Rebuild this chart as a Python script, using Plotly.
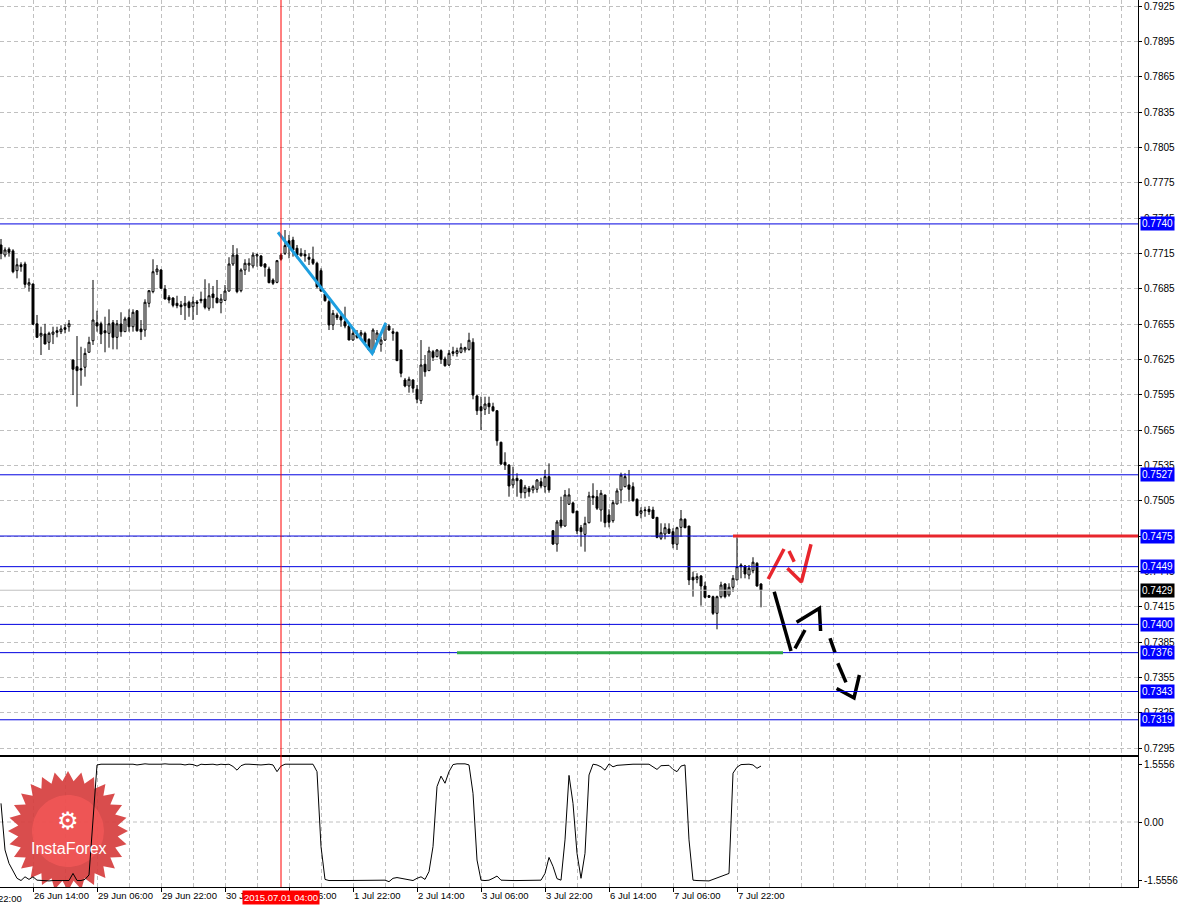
import numpy as np
import plotly.graph_objects as go

# ---------------- DATA ----------------
bars = list(range(191))  # H1 bars, 26 Jun 06:00 ... 8 Jul 04:00

opens = [0.77221,0.77136,0.77185,0.77171,0.77003,0.77053,0.77060,0.76881,0.76890,0.76552,
0.76448,0.76465,0.76395,0.76463,0.76493,0.76485,0.76519,0.76527,0.76245,0.76188,
0.76171,0.76183,0.76310,0.76408,0.76561,0.76552,0.76493,0.76471,0.76561,0.76437,
0.76550,0.76485,0.76604,0.76527,0.76663,0.76508,0.76499,0.76726,0.76825,0.76994,
0.77009,0.76847,0.76777,0.76771,0.76726,0.76712,0.76706,0.76735,0.76697,0.76737,
0.76760,0.76762,0.76684,0.76805,0.76771,0.76731,0.76751,0.76830,0.77060,0.77136,
0.76833,0.77009,0.77051,0.77043,0.77128,0.77128,0.77060,0.77017,0.76924,0.76904,
0.77136,0.77150,0.77257,0.77263,0.77193,0.77130,0.77142,0.77117,0.77100,0.77066,
0.77003,0.76805,0.76740,0.76542,0.76627,0.76612,0.76570,0.76533,0.76414,0.76457,
0.76457,0.76471,0.76420,0.76307,0.76414,0.76378,0.76414,0.76533,0.76485,0.76480,
0.76330,0.76075,0.76024,0.76075,0.75996,0.75899,0.76208,0.76154,0.76315,0.76273,
0.76324,0.76253,0.76202,0.76315,0.76301,0.76310,0.76330,0.76335,0.76395,0.75939,
0.75848,0.75826,0.75877,0.75848,0.75814,0.75546,0.75376,0.75353,0.75184,0.75240,
0.75226,0.75118,0.75155,0.75141,0.75147,0.75211,0.75169,0.75254,0.74795,0.74682,
0.74886,0.74835,0.75020,0.75031,0.74962,0.74821,0.74764,0.74863,0.75090,0.75084,
0.74971,0.75099,0.74929,0.74880,0.75022,0.75141,0.75169,0.75184,0.75169,0.75062,
0.74943,0.74965,0.74977,0.74971,0.74909,0.74731,0.74767,0.74810,0.74787,0.74680,
0.74824,0.74892,0.74835,0.74400,0.74383,0.74411,0.74326,0.74244,0.74235,0.74094,
0.74235,0.74343,0.74250,0.74315,0.74377,0.74490,0.74496,0.74419,0.74456,0.74519,
0.74343]

highs = [0.77272,0.77201,0.77201,0.77185,0.77108,0.77074,0.77079,0.76938,0.76892,0.76627,
0.76527,0.76552,0.76485,0.76527,0.76527,0.76539,0.76548,0.76584,0.76245,0.76448,
0.76357,0.76344,0.76442,0.76924,0.76663,0.76570,0.76612,0.76675,0.76584,0.76584,
0.76650,0.76612,0.76675,0.76675,0.76669,0.76584,0.76760,0.76839,0.77100,0.77051,
0.77015,0.76881,0.76796,0.76777,0.76790,0.76746,0.76788,0.76748,0.76782,0.76754,
0.76825,0.76930,0.76896,0.76873,0.76924,0.76805,0.76881,0.77117,0.77221,0.77193,
0.77023,0.77100,0.77108,0.77159,0.77150,0.77136,0.77066,0.77037,0.76938,0.77094,
0.77150,0.77348,0.77306,0.77291,0.77221,0.77193,0.77179,0.77150,0.77207,0.77079,
0.77023,0.76825,0.76754,0.76669,0.76646,0.76655,0.76697,0.76552,0.76499,0.76499,
0.76499,0.76485,0.76429,0.76514,0.76499,0.76442,0.76559,0.76548,0.76514,0.76485,
0.76330,0.76092,0.76103,0.76081,0.76032,0.76414,0.76287,0.76357,0.76330,0.76335,
0.76335,0.76273,0.76330,0.76357,0.76349,0.76386,0.76357,0.76476,0.76429,0.75947,
0.75933,0.75933,0.75933,0.75882,0.75820,0.75551,0.75461,0.75359,0.75339,0.75283,
0.75232,0.75184,0.75175,0.75184,0.75234,0.75245,0.75311,0.75367,0.74801,0.74886,
0.75084,0.75141,0.75155,0.75042,0.74962,0.74844,0.74914,0.75126,0.75198,0.75141,
0.75141,0.75099,0.74977,0.75056,0.75155,0.75288,0.75283,0.75311,0.75206,0.75070,
0.74994,0.74999,0.75005,0.74999,0.74909,0.74858,0.74858,0.74858,0.74816,0.74829,
0.74971,0.74901,0.74835,0.74447,0.74434,0.74419,0.74362,0.74250,0.74244,0.74244,
0.74362,0.74349,0.74349,0.74419,0.74739,0.74519,0.74504,0.74504,0.74570,0.74528,
0.74349]

lows = [0.77100,0.77117,0.77122,0.76981,0.76938,0.76994,0.76858,0.76825,0.76542,0.76434,
0.76287,0.76380,0.76330,0.76380,0.76437,0.76465,0.76471,0.76485,0.75947,0.75848,
0.76026,0.76103,0.76310,0.76372,0.76485,0.76380,0.76310,0.76349,0.76335,0.76335,
0.76442,0.76485,0.76485,0.76485,0.76485,0.76414,0.76442,0.76692,0.76811,0.76966,
0.76853,0.76762,0.76726,0.76692,0.76684,0.76627,0.76584,0.76612,0.76584,0.76627,
0.76726,0.76675,0.76663,0.76684,0.76726,0.76641,0.76748,0.76825,0.77043,0.76811,
0.76819,0.76966,0.76994,0.77023,0.77037,0.77037,0.76952,0.76896,0.76881,0.76896,
0.77088,0.77136,0.77108,0.77122,0.77108,0.77122,0.77079,0.77051,0.77051,0.76853,
0.76825,0.76740,0.76499,0.76499,0.76584,0.76527,0.76514,0.76414,0.76408,0.76425,
0.76437,0.76380,0.76324,0.76301,0.76397,0.76315,0.76406,0.76493,0.76408,0.76239,
0.76098,0.76013,0.75967,0.75967,0.75877,0.75871,0.76103,0.76151,0.76236,0.76267,
0.76211,0.76188,0.76194,0.76277,0.76273,0.76301,0.76307,0.76324,0.75911,0.75778,
0.75650,0.75778,0.75786,0.75806,0.75517,0.75353,0.75311,0.75084,0.75155,0.75084,
0.75070,0.75070,0.75084,0.75113,0.75118,0.75155,0.75118,0.75118,0.74674,0.74617,
0.74816,0.74829,0.75014,0.74943,0.74767,0.74660,0.74617,0.74858,0.75014,0.74971,
0.74872,0.74824,0.74824,0.74863,0.75020,0.75028,0.75164,0.75042,0.75042,0.74920,
0.74901,0.74914,0.74929,0.74895,0.74731,0.74716,0.74722,0.74767,0.74646,0.74632,
0.74744,0.74816,0.74334,0.74235,0.74349,0.74159,0.74221,0.74224,0.74080,0.73958,
0.74221,0.74221,0.74235,0.74277,0.74377,0.74391,0.74391,0.74383,0.74434,0.74320,
0.74145]

closes = [0.77150,0.77179,0.77159,0.76994,0.77053,0.77037,0.76887,0.76901,0.76548,0.76437,
0.76471,0.76380,0.76471,0.76482,0.76480,0.76508,0.76505,0.76552,0.76166,0.76154,
0.76160,0.76301,0.76395,0.76584,0.76533,0.76465,0.76476,0.76552,0.76437,0.76552,
0.76485,0.76593,0.76527,0.76650,0.76493,0.76485,0.76735,0.76833,0.76994,0.77017,
0.76853,0.76762,0.76754,0.76709,0.76706,0.76697,0.76726,0.76689,0.76737,0.76726,
0.76748,0.76692,0.76790,0.76774,0.76731,0.76762,0.76830,0.77060,0.77136,0.76825,
0.77009,0.77066,0.77066,0.77136,0.77139,0.77043,0.77032,0.76901,0.76896,0.77088,
0.77100,0.77216,0.77207,0.77179,0.77136,0.77150,0.77128,0.77100,0.77066,0.76867,
0.76830,0.76748,0.76542,0.76641,0.76604,0.76584,0.76533,0.76414,0.76471,0.76437,
0.76476,0.76392,0.76330,0.76499,0.76474,0.76414,0.76542,0.76499,0.76471,0.76239,
0.76132,0.76024,0.76081,0.76005,0.75911,0.76202,0.76145,0.76321,0.76267,0.76330,
0.76251,0.76196,0.76301,0.76301,0.76324,0.76349,0.76349,0.76412,0.75947,0.75814,
0.75814,0.75871,0.75848,0.75814,0.75559,0.75362,0.75353,0.75175,0.75234,0.75220,
0.75118,0.75164,0.75126,0.75169,0.75226,0.75175,0.75254,0.75141,0.74682,0.74869,
0.74835,0.75099,0.75099,0.74948,0.74793,0.74787,0.74858,0.75090,0.75075,0.74986,
0.75113,0.74863,0.74867,0.75033,0.75133,0.75268,0.75254,0.75147,0.75050,0.74923,
0.74965,0.74971,0.74957,0.74901,0.74739,0.74778,0.74821,0.74773,0.74682,0.74821,
0.74895,0.74821,0.74377,0.74377,0.74405,0.74326,0.74230,0.74230,0.74094,0.74235,
0.74334,0.74235,0.74315,0.74391,0.74490,0.74504,0.74428,0.74476,0.74528,0.74326,
0.74292]

indicator = [0.50,-0.75,-1.11,-1.33,-1.51,-1.57,-1.47,-1.54,-1.47,-1.56,
-1.57,-1.57,-1.58,-1.57,-1.57,-1.57,-1.57,-1.57,-1.38,-1.57,
-1.57,-1.54,-1.42,0.10,1.53,1.55,1.55,1.54,1.55,1.55,
1.56,1.55,1.54,1.55,1.53,1.55,1.56,1.55,1.54,1.55,
1.55,1.56,1.55,1.54,1.55,1.55,1.53,1.55,1.54,1.50,
1.55,1.54,1.55,1.55,1.53,1.55,1.54,1.55,1.49,1.39,
1.51,1.55,1.55,1.54,1.55,1.53,1.54,1.55,1.53,1.35,
1.50,1.55,1.55,1.55,1.54,1.55,1.55,1.55,1.55,1.35,
-0.66,-1.54,-1.57,-1.57,-1.58,-1.57,-1.57,-1.57,-1.58,-1.57,
-1.57,-1.57,-1.57,-1.58,-1.57,-1.56,-1.56,-1.60,-1.51,-1.49,
-1.51,-1.55,-1.57,-1.57,-1.51,-1.47,-1.54,-1.33,-0.66,0.95,
1.23,1.04,1.35,1.54,1.56,1.56,1.56,1.53,0.77,-1.02,
-1.56,-1.57,-1.56,-1.51,-1.45,-1.56,-1.57,-1.57,-1.57,-1.57,
-1.57,-1.57,-1.57,-1.57,-1.57,-1.56,-1.38,-0.95,-1.19,-1.52,
-1.56,-0.48,1.25,0.50,-0.84,-1.51,-0.84,1.26,1.55,1.53,
1.48,1.39,1.56,1.48,1.52,1.53,1.54,1.55,1.55,1.55,
1.55,1.55,1.55,1.48,1.41,1.51,1.52,1.52,1.41,1.35,
1.50,1.53,-0.48,-1.56,-1.57,-1.57,-1.57,-1.58,-1.54,-1.50,
-1.47,-1.42,-1.38,1.31,1.47,1.54,1.55,1.55,1.53,1.44,
1.50]

tick_bars = [8, 24, 40, 56, 72, 88, 104, 120, 136, 152, 168, 184]
tick_labels = ["26 Jun 14:00", "29 Jun 06:00", "29 Jun 22:00", "30 Jun 14:00",
               "1 Jul 06:00", "1 Jul 22:00", "2 Jul 14:00", "3 Jul 06:00",
               "3 Jul 22:00", "6 Jul 14:00", "7 Jul 06:00", "7 Jul 22:00"]
cursor_bar = 70
cursor_label = "2015.07.01 04:00"

blue_levels = [0.7740, 0.7527, 0.7475, 0.7449, 0.7400, 0.7376, 0.7343, 0.7319]
bid_price = 0.7429
red_level = 0.7475
red_level_start = 183
green_level = 0.7376
green_start, green_end = 114, 195.5

cyan_x = [69.25, 92.8, 96.2]
cyan_y = [0.77329, 0.76301, 0.76559]
red_x = [[191.8, 195.75], [197.0, 198.3], [196.6, 200.1, 202.5]]
red_y = [[0.74385, 0.74640], [0.74623, 0.74532], [0.74476, 0.74360, 0.74680]]
black_x = [[193.3, 197.5], [198.5, 201.0], [198.9, 204.6, 204.9],
           [207.25, 208.5], [209.2, 211.25], [208.9, 213.25, 214.6]]
black_y = [[0.74277, 0.73774], [0.73797, 0.73952], [0.74018, 0.74137, 0.73944],
           [0.73882, 0.73760], [0.73670, 0.73508], [0.73455, 0.73376, 0.73570]]

ind_ticks = [-1.5556, 0.0, 1.5556]
ind_tick_text = ["-1.5556", "0.00", "1.5556"]

# ---------------- LAYOUT CONSTANTS ----------------
W, H = 1180, 906
ML, MR, MT, MB = 0, 42, 0, 19
PW, PH = W - ML - MR, H - MT - MB
X_RANGE = [-0.25, 284.25]
Y_RANGE = [0.72891, 0.79301]
Y2_RANGE = [-1.7433, 1.7433]
MAIN_DOM = [132 / PH, 1.0]
IND_DOM = [0.0, 130 / PH]
FONT = "Liberation Sans, Arial, sans-serif"
GRID = "#c0c0c0"
GDASH = "4px,3px"
BLUE = "#0000e0"


def joined(xs, ys):
    ox, oy = [], []
    for a, b in zip(xs, ys):
        ox += list(a) + [None]
        oy += list(b) + [None]
    return ox, oy


fig = go.Figure()

# watermark (decoration) in the indicator pane, built from the pane's pixel geometry
x_per_px = (X_RANGE[1] - X_RANGE[0]) / PW
ind_px_h = IND_DOM[1] * PH
y2_per_px = (Y2_RANGE[1] - Y2_RANGE[0]) / ind_px_h
ind_top_px = PH - ind_px_h
n_sp = 28
ang = np.linspace(0, 2 * np.pi, 2 * n_sp + 1)
rad = np.where(np.arange(2 * n_sp + 1) % 2 == 0, 60.0, 50.0)
cx, cy = 68.0, 831.0
sx = X_RANGE[0] + (cx + rad * np.cos(ang)) * x_per_px
sy = Y2_RANGE[1] - (cy + rad * np.sin(ang) - ind_top_px) * y2_per_px
fig.add_trace(go.Scatter(x=sx, y=sy, fill="toself", mode="lines", line=dict(width=0),
                         fillcolor="rgba(214,62,62,0.92)", xaxis="x2", yaxis="y2",
                         hoverinfo="skip", showlegend=False))
ang2 = np.linspace(0, 2 * np.pi, 60)
ix = X_RANGE[0] + (cx + 36 * np.cos(ang2)) * x_per_px
iy = Y2_RANGE[1] - (cy + 36 * np.sin(ang2) - ind_top_px) * y2_per_px
fig.add_trace(go.Scatter(x=ix, y=iy, fill="toself", mode="lines", line=dict(width=0),
                         fillcolor="rgba(255,92,92,0.55)", xaxis="x2", yaxis="y2",
                         hoverinfo="skip", showlegend=False))

# candles
fig.add_trace(go.Candlestick(
    x=bars, open=opens, high=highs, low=lows, close=closes,
    increasing=dict(line=dict(color="black", width=1), fillcolor="white"),
    decreasing=dict(line=dict(color="black", width=1), fillcolor="black"),
    whiskerwidth=0, xaxis="x", yaxis="y", hoverinfo="skip", showlegend=False))

# drawn lines
fig.add_trace(go.Scatter(x=cyan_x, y=cyan_y, mode="lines",
                         line=dict(color="#1e9fe0", width=3), xaxis="x", yaxis="y",
                         hoverinfo="skip", showlegend=False))
rx, ry = joined(red_x, red_y)
fig.add_trace(go.Scatter(x=rx, y=ry, mode="lines", line=dict(color="#e8262d", width=3.5),
                         xaxis="x", yaxis="y", hoverinfo="skip", showlegend=False))
bx, by = joined(black_x, black_y)
fig.add_trace(go.Scatter(x=bx, y=by, mode="lines", line=dict(color="black", width=3.5),
                         xaxis="x", yaxis="y", hoverinfo="skip", showlegend=False))

# indicator
fig.add_trace(go.Scatter(x=bars, y=indicator, mode="lines", line=dict(color="black", width=1),
                         xaxis="x2", yaxis="y2", hoverinfo="skip", showlegend=False))

shapes = []
for lv in blue_levels:
    shapes.append(dict(type="line", xref="paper", x0=0, x1=1, yref="y", y0=lv, y1=lv,
                       line=dict(color=BLUE, width=1), layer="above"))
shapes.append(dict(type="line", xref="paper", x0=0, x1=1, yref="y", y0=bid_price, y1=bid_price,
                   line=dict(color="#c0c0c0", width=1), layer="above"))
shapes.append(dict(type="line", xref="x", x0=red_level_start, x1=X_RANGE[1], yref="y",
                   y0=red_level, y1=red_level, line=dict(color="#e8262d", width=3), layer="above"))
shapes.append(dict(type="line", xref="x", x0=green_start, x1=green_end, yref="y",
                   y0=green_level, y1=green_level, line=dict(color="#30a848", width=3), layer="above"))
shapes.append(dict(type="line", xref="paper", x0=0, x1=1, yref="y2", y0=0, y1=0,
                   line=dict(color=GRID, width=1, dash=GDASH), layer="below"))
shapes.append(dict(type="line", xref="x", x0=cursor_bar, x1=cursor_bar, yref="paper", y0=0, y1=1,
                   line=dict(color="#ff0000", width=1), layer="above"))

ann = []
for lv in blue_levels:
    ann.append(dict(x=1, xref="paper", y=lv, yref="y", text=f"{lv:.4f}", showarrow=False,
                    xanchor="left", yanchor="middle", xshift=2, bgcolor="#0000ff",
                    font=dict(color="white", size=10, family=FONT), borderpad=1))
ann.append(dict(x=1, xref="paper", y=bid_price, yref="y", text=f"{bid_price:.4f}", showarrow=False,
                xanchor="left", yanchor="middle", xshift=2, bgcolor="black",
                font=dict(color="white", size=10, family=FONT), borderpad=1))
ann.append(dict(x=cursor_bar, xref="x", y=0, yref="paper", text=cursor_label, showarrow=False,
                xanchor="center", yanchor="top", yshift=-3, bgcolor="#ff0000",
                font=dict(color="white", size=9.5, family=FONT), borderpad=1))
ann.append(dict(x=0, xref="paper", y=0, yref="paper", text="22:00", showarrow=False,
                xanchor="left", yanchor="top", xshift=-4, yshift=-4,
                font=dict(color="black", size=9.5, family=FONT)))
ann.append(dict(x=(cx) / PW, xref="paper", y=(PH - 821) / PH, yref="paper", text="\u2699",
                showarrow=False, xanchor="center", yanchor="middle",
                font=dict(color="white", size=24, family="DejaVu Sans")))
ann.append(dict(x=(cx + 1) / PW, xref="paper", y=(PH - 848) / PH, yref="paper", text="InstaForex",
                showarrow=False, xanchor="center", yanchor="middle",
                font=dict(color="white", size=16, family=FONT)))

tickfont = dict(family=FONT, size=10, color="black")
xtickfont = dict(family=FONT, size=9.5, color="black")
xgrid = dict(showgrid=True, gridcolor=GRID, griddash=GDASH, gridwidth=1)
xminor = dict(tickmode="linear", tick0=0, dtick=8, showgrid=True, gridcolor=GRID,
              griddash=GDASH, gridwidth=1, ticks="")

fig.update_layout(
    width=W, height=H, margin=dict(l=ML, r=MR, t=MT, b=MB, pad=0, autoexpand=False),
    paper_bgcolor="white", plot_bgcolor="white", showlegend=False, hovermode=False,
    shapes=shapes, annotations=ann,
    xaxis=dict(domain=[0, 1], range=X_RANGE, anchor="y", rangeslider=dict(visible=False),
               tickmode="array", tickvals=tick_bars, showticklabels=False, ticks="",
               minor=xminor, showline=True, linecolor="black", linewidth=1,
               zeroline=False, fixedrange=True, automargin=False, **xgrid),
    yaxis=dict(domain=MAIN_DOM, range=Y_RANGE, anchor="x", side="right",
               tickmode="linear", tick0=0.7295, dtick=0.003, tickformat=".4f",
               ticks="outside", ticklen=3, tickcolor="black", tickfont=tickfont,
               showgrid=True, gridcolor=GRID, griddash=GDASH, gridwidth=1, automargin=False,
               showline=True, linecolor="black", linewidth=1, zeroline=False, fixedrange=True),
    xaxis2=dict(domain=[0, 1], range=X_RANGE, anchor="y2", tickmode="array",
                tickvals=tick_bars, ticktext=tick_labels, ticks="outside", ticklen=4,
                tickcolor="black", ticklabelposition="outside right", tickfont=xtickfont,
                tickangle=0, automargin=False,
                minor=xminor, showline=True, mirror=True, linecolor="black", linewidth=1,
                zeroline=False, fixedrange=True, **xgrid),
    yaxis2=dict(domain=IND_DOM, range=Y2_RANGE, anchor="x2", side="right",
                tickmode="array", tickvals=ind_ticks, ticktext=ind_tick_text,
                ticks="outside", ticklen=3, tickcolor="black", tickfont=tickfont,
                showgrid=False, showline=True, linecolor="black", linewidth=1, automargin=False,
                zeroline=False, fixedrange=True),
)

fig.write_html("out.html", config={"displayModeBar": False},
               post_script="document.body.style.margin='0';document.body.style.overflow='hidden';")
